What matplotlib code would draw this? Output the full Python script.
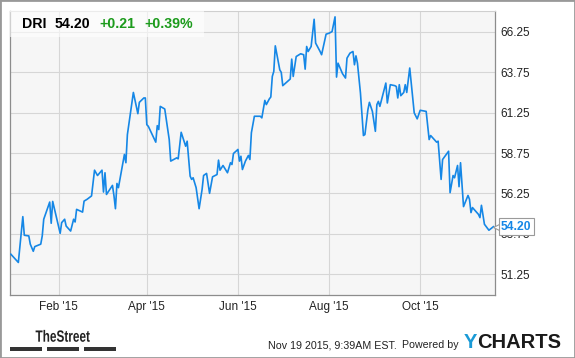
#!/usr/bin/env python3
import matplotlib
matplotlib.use("Agg")
import matplotlib.pyplot as plt
import matplotlib.patches as patches
import matplotlib.transforms as mtransforms
from matplotlib.textpath import TextPath
from matplotlib.font_manager import FontProperties
import pandas as pd

# DRI closing prices
dates = [
    "2014-12-31", "2015-01-05", "2015-01-08", "2015-01-09", "2015-01-12", "2015-01-13",
    "2015-01-15", "2015-01-16", "2015-01-20", "2015-01-21", "2015-01-22", "2015-01-26",
    "2015-01-27", "2015-01-28", "2015-02-02", "2015-02-03", "2015-02-05", "2015-02-06",
    "2015-02-09", "2015-02-11", "2015-02-12", "2015-02-13", "2015-02-17", "2015-02-18",
    "2015-02-20", "2015-02-23", "2015-02-25", "2015-02-27", "2015-03-02", "2015-03-03",
    "2015-03-04", "2015-03-05", "2015-03-09", "2015-03-10", "2015-03-11", "2015-03-12",
    "2015-03-13", "2015-03-17", "2015-03-18", "2015-03-19", "2015-03-23", "2015-03-26",
    "2015-03-27", "2015-03-30", "2015-03-31", "2015-04-01", "2015-04-02", "2015-04-07",
    "2015-04-08", "2015-04-09", "2015-04-10", "2015-04-13", "2015-04-16", "2015-04-17",
    "2015-04-21", "2015-04-22", "2015-04-24", "2015-04-27", "2015-04-28", "2015-04-30",
    "2015-05-01", "2015-05-02", "2015-05-04", "2015-05-06", "2015-05-08", "2015-05-09",
    "2015-05-11", "2015-05-13", "2015-05-15", "2015-05-18", "2015-05-19", "2015-05-20",
    "2015-05-22", "2015-05-25", "2015-05-27", "2015-05-28", "2015-05-29", "2015-06-01",
    "2015-06-02", "2015-06-03", "2015-06-04", "2015-06-06", "2015-06-08", "2015-06-09",
    "2015-06-10", "2015-06-12", "2015-06-16", "2015-06-17", "2015-06-19", "2015-06-20",
    "2015-06-22", "2015-06-23", "2015-06-24", "2015-06-25", "2015-06-26", "2015-06-29",
    "2015-06-30", "2015-07-01", "2015-07-06", "2015-07-07", "2015-07-08", "2015-07-10",
    "2015-07-13", "2015-07-15", "2015-07-16", "2015-07-17", "2015-07-18", "2015-07-20",
    "2015-07-22", "2015-07-23", "2015-07-26", "2015-07-27", "2015-07-30", "2015-08-01",
    "2015-08-03", "2015-08-05", "2015-08-06", "2015-08-07", "2015-08-10", "2015-08-12",
    "2015-08-13", "2015-08-15", "2015-08-17", "2015-08-18", "2015-08-19", "2015-08-20",
    "2015-08-22", "2015-08-24", "2015-08-25", "2015-08-27", "2015-08-28", "2015-08-30",
    "2015-09-01", "2015-09-02", "2015-09-03", "2015-09-04", "2015-09-06", "2015-09-08",
    "2015-09-09", "2015-09-11", "2015-09-14", "2015-09-15", "2015-09-16", "2015-09-17",
    "2015-09-18", "2015-09-20", "2015-09-21", "2015-09-22", "2015-09-24", "2015-09-27",
    "2015-09-29", "2015-10-01", "2015-10-05", "2015-10-07", "2015-10-08", "2015-10-12",
    "2015-10-13", "2015-10-15", "2015-10-16", "2015-10-20", "2015-10-21", "2015-10-23",
    "2015-10-24", "2015-10-26", "2015-10-27", "2015-10-28", "2015-10-30", "2015-11-02",
    "2015-11-03", "2015-11-04", "2015-11-05", "2015-11-09", "2015-11-10", "2015-11-11",
    "2015-11-13", "2015-11-16", "2015-11-19",
]
prices = [
    52.50, 51.99, 54.82, 53.67, 53.63, 53.12,
    52.68, 52.97, 53.12, 53.63, 54.66, 55.72,
    54.41, 55.76, 53.79, 54.45, 54.66, 54.24,
    53.93, 54.66, 54.49, 55.27, 55.10, 55.78,
    55.89, 56.10, 57.69, 57.36, 57.69, 56.34,
    57.53, 56.19, 56.75, 56.12, 55.31, 56.87,
    56.61, 58.66, 58.15, 59.89, 62.49, 61.18,
    61.88, 62.15, 62.15, 60.50, 60.40, 59.42,
    60.44, 60.20, 61.63, 61.47, 59.58, 58.25,
    58.45, 58.39, 60.03, 59.17, 59.48, 57.32,
    57.12, 57.22, 56.61, 55.31, 56.50, 57.36,
    57.49, 56.26, 57.28, 57.42, 58.31, 57.69,
    57.98, 57.53, 58.15, 58.04, 58.72, 58.97,
    58.25, 58.55, 57.73, 58.25, 58.60, 58.35,
    60.00, 61.02, 61.02, 60.92, 62.00, 61.74,
    62.09, 62.21, 63.48, 63.79, 65.37, 63.89,
    63.73, 62.91, 63.32, 64.55, 63.48, 64.71,
    64.88, 64.82, 63.93, 65.33, 65.02, 65.33,
    67.01, 65.54, 65.02, 64.82, 66.09, 66.15,
    66.25, 67.16, 63.44, 64.30, 63.65, 63.38,
    64.61, 64.92, 65.02, 64.20, 64.75, 64.30,
    62.46, 59.83, 59.89, 61.43, 61.88, 61.32,
    60.09, 61.74, 61.94, 61.63, 62.35, 63.07,
    61.84, 62.97, 62.91, 62.86, 62.15, 62.97,
    62.29, 62.49, 62.97, 62.49, 64.00, 61.23,
    60.86, 61.39, 61.32, 59.58, 59.83, 59.42,
    59.48, 57.12, 58.35, 58.86, 56.30, 57.36,
    57.22, 57.98, 56.67, 58.15, 55.44, 56.13,
    55.89, 55.07, 55.38, 54.96, 54.76, 55.52,
    54.35, 53.98, 54.20,
]

ticker = "DRI"
last_price = "54.20"
change = "+0.21"
change_pct = "+0.39%"
y_ticks = [51.25, 53.75, 56.25, 58.75, 61.25, 63.75, 66.25]
x_ticks = ["2015-02-01", "2015-04-01", "2015-06-01", "2015-08-01", "2015-10-01"]
x_tick_labels = ["Feb '15", "Apr '15", "Jun '15", "Aug '15", "Oct '15"]
timestamp = "Nov 19 2015, 9:39AM EST."

LINE_BLUE = "#1587e6"
GREEN = "#1c9b1c"
FONT = ["Liberation Sans", "DejaVu Sans"]


def plot_chart():
    plt.rcParams["font.family"] = FONT
    fig = plt.figure(figsize=(5.75, 3.58), dpi=100)
    W, H = 575.0, 358.0

    # plot box in pixels: x 10..494.7, y 10.7..295
    ax = fig.add_axes([10 / W, 1 - 295 / H, 484.7 / W, 284.3 / H])
    ax.set_facecolor("#f6f6f6")

    x = pd.to_datetime(dates)
    ax.plot(x, prices, color=LINE_BLUE, linewidth=1.2, zorder=3,
            solid_joinstyle="round")

    ax.set_xlim(pd.Timestamp("2014-12-30 10:00"), pd.Timestamp("2015-11-19 21:00"))
    ax.set_ylim(49.98, 67.54)

    ax.set_xticks(pd.to_datetime(x_ticks))
    ax.set_xticklabels(x_tick_labels)
    ax.set_yticks(y_ticks)
    ax.set_yticklabels([f"{v:.2f}" for v in y_ticks])
    ax.yaxis.tick_right()
    ax.tick_params(axis="both", length=0, labelsize=8.5, colors="#222222")
    ax.tick_params(axis="y", pad=4)
    ax.tick_params(axis="x", pad=4)
    ax.grid(True, color="#d6d6d6", linewidth=0.8)
    ax.set_axisbelow(True)

    for side in ["left", "bottom", "right"]:
        ax.spines[side].set_color("#8c8c8c")
        ax.spines[side].set_linewidth(0.9)
    ax.spines["top"].set_color("#cfcfcf")
    ax.spines["top"].set_linewidth(0.8)

    # header strip with ticker and change
    ax.add_patch(patches.Rectangle((0, 1 - 26 / 284.3), 194 / 484.7, 26 / 284.3,
                                   transform=ax.transAxes, facecolor="white",
                                   alpha=0.6, edgecolor="none", zorder=4))
    hy = 1 - 24 / H
    fig.text(21.7 / W, hy, ticker, fontsize=10.2, fontweight="bold", color="black", va="center")
    fig.text(55 / W, hy, last_price, fontsize=10.2, fontweight="bold", color="black", va="center")
    fig.text(99 / W, hy, change, fontsize=10.2, fontweight="bold", color=GREEN, va="center")
    fig.text(144 / W, hy, change_pct, fontsize=10.2, fontweight="bold", color=GREEN, va="center")

    # last value flag on the right edge
    ptr = mtransforms.offset_copy(ax.transData, fig=fig, x=3.5, y=0, units="points")
    ax.plot(pd.Timestamp(dates[-1]), prices[-1], marker="<", markersize=7,
            markerfacecolor="white", markeredgecolor="#9a9a9a", markeredgewidth=0.8,
            transform=ptr, clip_on=False, zorder=5)
    ax.annotate(last_price, xy=(pd.Timestamp(dates[-1]), prices[-1]),
                xytext=(5.5, 0), textcoords="offset points", ha="left", va="center",
                fontsize=8.7, fontweight="bold", color=LINE_BLUE, annotation_clip=False,
                zorder=6,
                bbox=dict(boxstyle="square,pad=0.2", facecolor="white",
                          edgecolor="#9a9a9a", linewidth=0.8))

    # footer: condensed "TheStreet" logo drawn as a squeezed text path
    tp = TextPath((0, 0), "TheStreet", size=16.3,
                  prop=FontProperties(family="Liberation Sans", weight="bold"))
    ext = tp.get_extents()
    logo_tr = (mtransforms.Affine2D().translate(-ext.x0, 0)
               .scale(54.2 / ext.width, 1.0).translate(35.6, H - 341.7))
    fig.add_artist(patches.PathPatch(tp, transform=logo_tr, facecolor="#222222",
                                     edgecolor="none"))
    for x0, x1 in [(10.3, 42.2), (47, 78.8), (83.6, 115.5)]:
        fig.patches.append(patches.Rectangle((x0 / W, 1 - 350.7 / H), (x1 - x0) / W, 3.4 / H,
                                             transform=fig.transFigure, facecolor="#333333",
                                             edgecolor="none"))
    fig.text(267.7 / W, 1 - 345 / H, timestamp, fontsize=7.7, color="#222222", va="center")
    fig.text(401.5 / W, 1 - 345 / H, "Powered by", fontsize=7.7, color="#222222", va="center")
    fig.text(464 / W, 1 - 342 / H, "Y", fontsize=14.5, fontweight="bold", color="#1a9ad6",
             va="center")
    fig.text(477.5 / W, 1 - 342 / H, "CHARTS", fontsize=14.5, fontweight="bold",
             color="#1a1a1a", va="center")

    # outer frame
    fig.patches.append(patches.Rectangle((0, 0), 1, 1, transform=fig.transFigure,
                                         fill=False, edgecolor="#999999", linewidth=2))

    fig.savefig("out.png", dpi=100)


def main():
    plot_chart()


if __name__ == "__main__":
    main()
